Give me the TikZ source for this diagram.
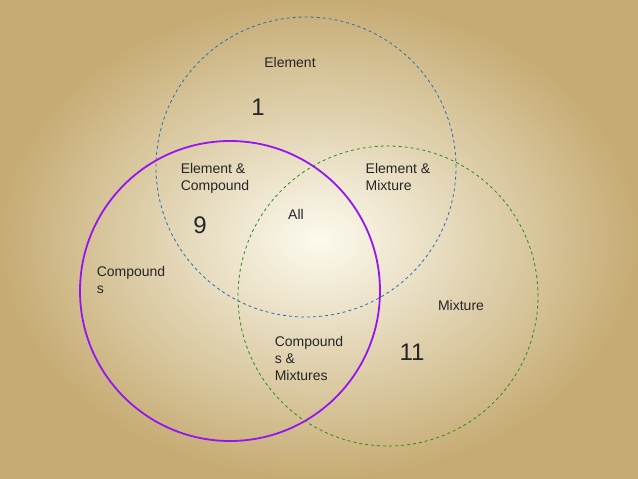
\documentclass[tikz,border=0pt]{standalone}
\usepackage{fontspec}
\setmainfont{Liberation Sans}
\definecolor{bgin}{RGB}{252,250,238}
\definecolor{bgout}{RGB}{198,172,116}
\definecolor{elblue}{RGB}{40,110,180}
\definecolor{cppurple}{RGB}{150,20,240}
\definecolor{mxgreen}{RGB}{40,140,30}
\begin{document}
\begin{tikzpicture}[x=1pt,y=-1pt,
set/.style={circle, inner sep=0pt, minimum size=300pt},
lbl/.style={font=\fontsize{14}{17}\selectfont, align=left, text=black!85},
num/.style={font=\fontsize{24}{28}\selectfont, text=black!85}]

\shade[inner color=bgin, outer color=bgout] (0,0) rectangle (638,479);
\useasboundingbox (0,0) rectangle (638,479);

\node[set, draw=elblue, dashed, line width=0.8pt] (el) at (306,167) {};
\node[set, draw=cppurple, line width=1.8pt] (cp) at (230,291) {};
\node[set, draw=mxgreen, dashed, line width=0.8pt] (mx) at (388,296) {};

\node[lbl] (elname) at (290,62) {Element};
\node[num] (n1) at (258,107) {1};
\node[lbl] (elcp) at (215,178) {Element \&\\Compound};
\node[num] (n9) at (200,225) {9};
\node[lbl] (all) at (296,214) {All};
\node[lbl] (elmx) at (398,177) {Element \&\\Mixture};
\node[lbl] (cpname) at (131,280) {Compound\\s};
\node[lbl] (mxname) at (461,305) {Mixture};
\node[lbl] (cpmx) at (309,358) {Compound\\s \&\\Mixtures};
\node[num] (n11) at (412,352) {11};
\end{tikzpicture}
\end{document}
